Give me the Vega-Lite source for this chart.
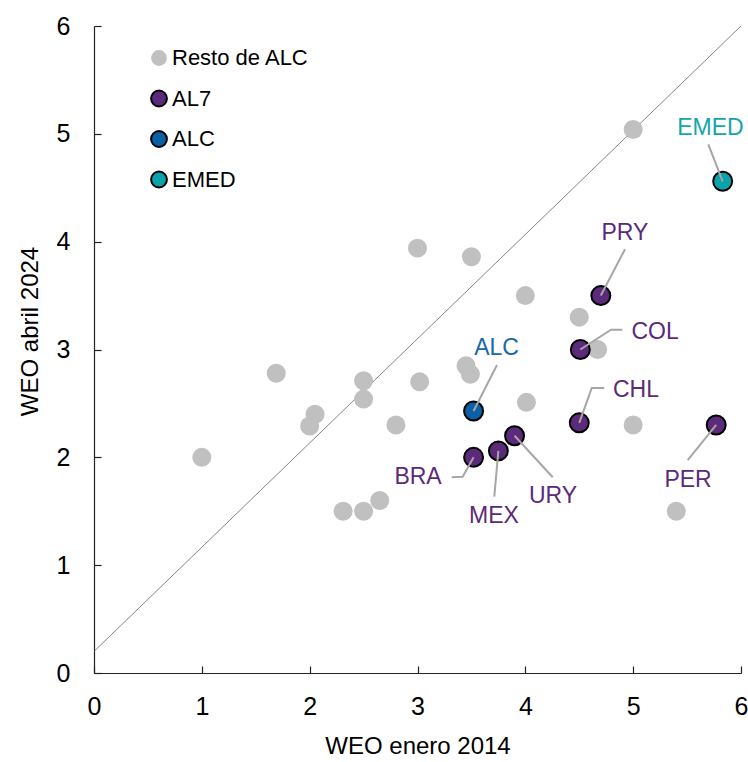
{
  "$schema": "https://vega.github.io/schema/vega-lite/v6.json",
  "width": 647,
  "height": 647,
  "autosize": "none",
  "padding": {"left": 94, "top": 26, "right": 7, "bottom": 89},
  "config": {
    "font": "Liberation Sans",
    "view": {"stroke": null},
    "axis": {
      "grid": false,
      "domainColor": "#222222",
      "domainWidth": 1.2,
      "tickColor": "#222222",
      "tickWidth": 1.2,
      "tickSize": -7,
      "labelFlush": false,
      "labelFontSize": 25,
      "labelColor": "#000000",
      "titleFontSize": 24,
      "titleFontWeight": "normal",
      "titleColor": "#000000",
      "format": "d"
    }
  },
  "datasets": {
    "pts": [
      {"g": "Resto de ALC", "x": 1.0, "y": 2.0},
      {"g": "Resto de ALC", "x": 1.69, "y": 2.78},
      {"g": "Resto de ALC", "x": 2.05, "y": 2.4},
      {"g": "Resto de ALC", "x": 2.0, "y": 2.29},
      {"g": "Resto de ALC", "x": 2.5, "y": 2.71},
      {"g": "Resto de ALC", "x": 2.5, "y": 2.54},
      {"g": "Resto de ALC", "x": 2.8, "y": 2.3},
      {"g": "Resto de ALC", "x": 3.0, "y": 3.94},
      {"g": "Resto de ALC", "x": 3.02, "y": 2.7},
      {"g": "Resto de ALC", "x": 3.5, "y": 3.86},
      {"g": "Resto de ALC", "x": 3.45, "y": 2.85},
      {"g": "Resto de ALC", "x": 3.49, "y": 2.77},
      {"g": "Resto de ALC", "x": 4.0, "y": 3.5},
      {"g": "Resto de ALC", "x": 4.01, "y": 2.51},
      {"g": "Resto de ALC", "x": 4.5, "y": 3.3},
      {"g": "Resto de ALC", "x": 4.67, "y": 3.0},
      {"g": "Resto de ALC", "x": 5.0, "y": 5.04},
      {"g": "Resto de ALC", "x": 5.0, "y": 2.3},
      {"g": "Resto de ALC", "x": 5.4, "y": 1.5},
      {"g": "Resto de ALC", "x": 2.31, "y": 1.5},
      {"g": "Resto de ALC", "x": 2.5, "y": 1.5},
      {"g": "Resto de ALC", "x": 2.65, "y": 1.6},
      {"g": "AL7", "x": 3.52, "y": 2.0},
      {"g": "AL7", "x": 3.75, "y": 2.06},
      {"g": "AL7", "x": 3.9, "y": 2.2},
      {"g": "AL7", "x": 4.7, "y": 3.5},
      {"g": "AL7", "x": 4.51, "y": 3.0},
      {"g": "AL7", "x": 4.5, "y": 2.32},
      {"g": "AL7", "x": 5.77, "y": 2.3},
      {"g": "ALC", "x": 3.52, "y": 2.43},
      {"g": "EMED", "x": 5.83, "y": 4.56}
    ],
    "leaders": [
      {"k": "ALC", "o": 1, "x": 3.737, "y": 2.856},
      {"k": "ALC", "o": 2, "x": 3.52, "y": 2.43},
      {"k": "BRA", "o": 1, "x": 3.317, "y": 1.815},
      {"k": "BRA", "o": 2, "x": 3.419, "y": 1.82},
      {"k": "BRA", "o": 3, "x": 3.52, "y": 2.0},
      {"k": "MEX", "o": 1, "x": 3.712, "y": 1.635},
      {"k": "MEX", "o": 2, "x": 3.75, "y": 2.06},
      {"k": "URY", "o": 1, "x": 4.254, "y": 1.815},
      {"k": "URY", "o": 2, "x": 3.9, "y": 2.2},
      {"k": "EMED", "o": 1, "x": 5.697, "y": 4.903},
      {"k": "EMED", "o": 2, "x": 5.83, "y": 4.56},
      {"k": "PRY", "o": 1, "x": 4.924, "y": 3.929},
      {"k": "PRY", "o": 2, "x": 4.7, "y": 3.5},
      {"k": "COL", "o": 1, "x": 4.899, "y": 3.184},
      {"k": "COL", "o": 2, "x": 4.795, "y": 3.184},
      {"k": "COL", "o": 3, "x": 4.51, "y": 3.0},
      {"k": "CHL", "o": 1, "x": 4.732, "y": 2.643},
      {"k": "CHL", "o": 2, "x": 4.616, "y": 2.643},
      {"k": "CHL", "o": 3, "x": 4.5, "y": 2.32},
      {"k": "PER", "o": 1, "x": 5.506, "y": 1.975},
      {"k": "PER", "o": 2, "x": 5.77, "y": 2.3}
    ],
    "labels": [
      {"t": "ALC", "g": "ALC", "x": 3.733, "y": 3.023},
      {"t": "BRA", "g": "AL7", "x": 3.005, "y": 1.827},
      {"t": "MEX", "g": "AL7", "x": 3.709, "y": 1.465},
      {"t": "URY", "g": "AL7", "x": 4.257, "y": 1.651},
      {"t": "EMED", "g": "EMED", "x": 5.716, "y": 5.068},
      {"t": "PRY", "g": "AL7", "x": 4.924, "y": 4.09},
      {"t": "COL", "g": "AL7", "x": 5.203, "y": 3.176},
      {"t": "CHL", "g": "AL7", "x": 5.026, "y": 2.638},
      {"t": "PER", "g": "AL7", "x": 5.509, "y": 1.804}
    ],
    "diag": [
      {"x": 0, "y": 0.2, "x2": 6, "y2": 6}
    ]
  },
  "layer": [
    {
      "data": {"name": "diag"},
      "mark": {"type": "rule", "color": "#666666", "strokeWidth": 0.8},
      "encoding": {
        "x": {"field": "x", "type": "quantitative", "scale": {"domain": [0, 6], "nice": false},
              "axis": {"values": [0, 1, 2, 3, 4, 5, 6], "title": "WEO enero 2014", "labelPadding": 28, "titlePadding": 15}},
        "y": {"field": "y", "type": "quantitative", "scale": {"domain": [0, 6], "nice": false},
              "axis": {"values": [0, 1, 2, 3, 4, 5, 6], "title": "WEO abril 2024", "labelPadding": 31, "titleX": -64, "titleY": 305, "titleBaseline": "middle", "titleAngle": -90}},
        "x2": {"field": "x2"},
        "y2": {"field": "y2"}
      }
    },
    {
      "data": {"name": "pts"},
      "mark": {"type": "point", "filled": true, "shape": "circle", "size": 360, "strokeWidth": 2, "opacity": 1},
      "encoding": {
        "x": {"field": "x", "type": "quantitative"},
        "y": {"field": "y", "type": "quantitative"},
        "color": {"field": "g", "type": "nominal",
          "scale": {"domain": ["Resto de ALC", "AL7", "ALC", "EMED"], "range": ["#c0c0c0", "#5b2a7b", "#0b5fa4", "#0aa3aa"]},
          "legend": {"title": null, "orient": "none", "legendX": 54, "legendY": 21, "padding": 0,
            "symbolType": "circle", "symbolSize": 250, "symbolStrokeWidth": 2, "symbolOpacity": 1,
            "labelFontSize": 22, "labelColor": "#000000", "labelOffset": 2, "rowPadding": 16.5}},
        "stroke": {"field": "g", "type": "nominal",
          "scale": {"domain": ["Resto de ALC", "AL7", "ALC", "EMED"], "range": ["transparent", "#000000", "#000000", "#000000"]},
          "legend": {"title": null, "orient": "none", "legendX": 54, "legendY": 21, "padding": 0,
            "symbolType": "circle", "symbolSize": 250, "symbolStrokeWidth": 2, "symbolOpacity": 1,
            "labelFontSize": 22, "labelColor": "#000000", "labelOffset": 2, "rowPadding": 16.5}}
      }
    },
    {
      "data": {"name": "leaders"},
      "mark": {"type": "line", "color": "#a6a6a6", "strokeWidth": 2},
      "encoding": {
        "x": {"field": "x", "type": "quantitative"},
        "y": {"field": "y", "type": "quantitative"},
        "detail": {"field": "k", "type": "nominal"},
        "order": {"field": "o", "type": "quantitative"}
      }
    },
    {
      "data": {"name": "labels"},
      "mark": {"type": "text", "fontSize": 23, "align": "center", "baseline": "alphabetic", "dy": 8.2},
      "encoding": {
        "x": {"field": "x", "type": "quantitative"},
        "y": {"field": "y", "type": "quantitative"},
        "text": {"field": "t", "type": "nominal"},
        "fill": {"field": "g", "type": "nominal",
          "scale": {"domain": ["AL7", "ALC", "EMED"], "range": ["#5b2a7b", "#1767a9", "#12a6ab"]},
          "legend": null}
      }
    }
  ]
}
